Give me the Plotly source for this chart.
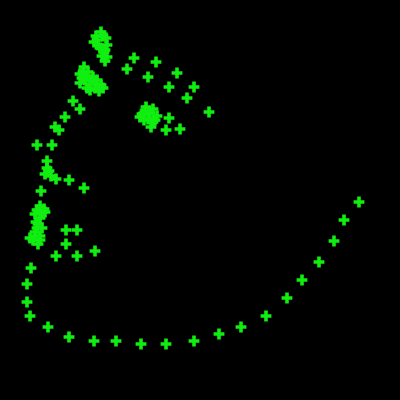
import plotly.graph_objects as go

x_vals = [
    96, 101, 106, 94, 107, 100, 104, 107, 105, 98, 103, 105, 102, 97,
    134, 127, 156, 148, 177, 169, 194, 187, 209,
    84, 80, 88, 93, 85, 90, 97, 101, 87, 95, 103, 80, 99, 86, 92, 83, 96, 90, 82,
    73, 80, 65, 55, 59, 52, 37,
    146, 142, 153, 157, 148, 153, 151, 140, 145, 150, 155, 144,
    169, 166, 180,
    47, 47, 45, 51, 56, 49,
    69, 84, 41,
    40, 44, 35, 40, 38, 42, 35, 40, 33, 38, 30, 36, 45, 42, 37, 37, 35, 40,
    66, 77, 66, 56, 77, 95,
    31, 27, 27, 30, 48, 69, 94, 116, 141, 166, 194, 219, 241, 266, 287, 302, 319, 334, 344, 359,
]
y_vals = [
    36, 32, 38, 42, 45, 48, 52, 57, 61, 45, 36, 50, 56, 40,
    58, 69, 62, 77, 73, 87, 87, 98, 112,
    67, 74, 72, 77, 80, 84, 80, 85, 88, 88, 88, 83, 91, 76, 80, 72, 84, 90, 78,
    101, 109, 117, 127, 130, 145, 145,
    107, 114, 109, 116, 119, 122, 127, 117, 111, 113, 120, 120,
    118, 130, 129,
    161, 168, 174, 176, 179, 171,
    180, 188, 191,
    206, 209, 214, 218, 224, 228, 232, 236, 240, 244, 238, 222, 212, 212, 210, 228, 236, 240,
    230, 230, 244, 256, 256, 251,
    268, 284, 302, 316, 327, 337, 341, 341, 344, 344, 341, 334, 327, 316, 298, 280, 262, 241, 220, 202,
]

fig = go.Figure(go.Scatter(
    x=x_vals, y=y_vals, mode="markers",
    marker=dict(symbol="cross", size=9, color="#11ee11", line=dict(width=0)),
))
fig.update_layout(
    width=400, height=400, margin=dict(l=0, r=0, t=0, b=0),
    paper_bgcolor="black", plot_bgcolor="black", showlegend=False,
    xaxis=dict(range=[0, 400], visible=False),
    yaxis=dict(range=[400, 0], visible=False),
)
fig.write_html("out.html")
